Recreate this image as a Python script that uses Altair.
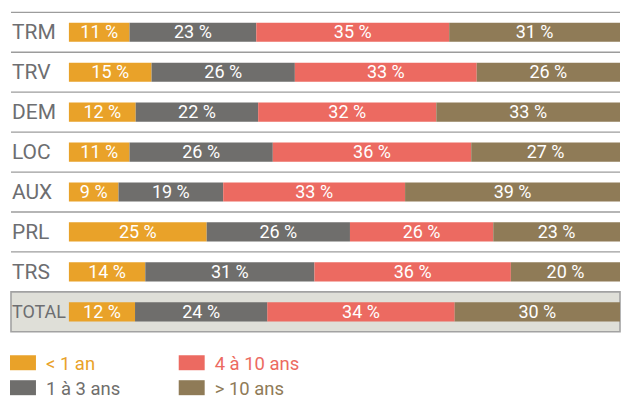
import altair as alt
import pandas as pd

rows = ["TRM", "TRV", "DEM", "LOC", "AUX", "PRL", "TRS", "TOTAL"]
cats = ["< 1 an", "1 à 3 ans", "4 à 10 ans", "> 10 ans"]
lt1 = [11, 15, 12, 11, 9, 25, 14, 12]
y1_3 = [23, 26, 22, 26, 19, 26, 31, 24]
y4_10 = [35, 33, 32, 36, 33, 26, 36, 34]
gt10 = [31, 26, 33, 27, 39, 23, 20, 30]
colors = ["#E9A229", "#6F6E6C", "#EC6A61", "#8F7B57"]

series = [lt1, y1_3, y4_10, gt10]
recs = []
for i, r in enumerate(rows):
    for j, c in enumerate(cats):
        recs.append({"row": r, "ri": i, "cat": c, "ci": j, "value": series[j][i]})
df = pd.DataFrame(recs)

label_df = pd.DataFrame({"row": rows, "ri": list(range(len(rows)))})
rule_df = pd.DataFrame({"ri": [i for i, r in enumerate(rows) if r != "TOTAL"]})
tot_i = rows.index("TOTAL")
box_df = pd.DataFrame({"ri": [tot_i], "ri2": [tot_i + 1]})

W = 610
H = 320
yscale = alt.Scale(domain=[0, len(rows)], reverse=True, nice=False, zero=False)
xscale = alt.Scale(domain=[0, 1], range=[58, 610], nice=False)
cscale = alt.Scale(domain=cats, range=colors)
FONT = "Roboto"

box = alt.Chart(box_df).mark_rect(
    fill="#DFDFD8", stroke="#A2A2A2", strokeWidth=1.6
).encode(
    y=alt.Y("ri:Q", scale=yscale, axis=None),
    y2="ri2:Q",
)

rules = alt.Chart(rule_df).mark_rule(color="#9C9C9C", strokeWidth=1.3).encode(
    y=alt.Y("ri:Q", scale=yscale, axis=None)
)

base = (
    alt.Chart(df)
    .transform_joinaggregate(total="sum(value)", groupby=["row"])
    .transform_window(
        cum="sum(value)", groupby=["row"], sort=[alt.SortField("ci")], frame=[None, 0]
    )
    .transform_calculate(x0="(datum.cum - datum.value) / datum.total")
    .transform_calculate(x1="datum.cum / datum.total")
    .transform_calculate(xm="(datum.x0 + datum.x1) / 2")
    .transform_calculate(yt="datum.ri + 0.26", yb="datum.ri + 0.74", yc="datum.ri + 0.5")
    .transform_calculate(lab="datum.value + ' %'")
)

bars = base.mark_bar().encode(
    x=alt.X("x0:Q", scale=xscale, axis=None),
    x2="x1:Q",
    y=alt.Y("yt:Q", scale=yscale, axis=None),
    y2="yb:Q",
    color=alt.Color("cat:N", scale=cscale, legend=None),
)

seg_text = base.mark_text(
    color="white", font=FONT, fontSize=18, baseline="middle", align="center", dy=1
).encode(
    x=alt.X("xm:Q", scale=xscale, axis=None),
    y=alt.Y("yc:Q", scale=yscale, axis=None),
    text="lab:N",
)

row_labels = (
    alt.Chart(label_df)
    .transform_calculate(yc="datum.ri + 0.5")
    .mark_text(
        color="#6D6E71", font=FONT, fontWeight="normal",
        align="left", baseline="middle", dy=1
    )
    .encode(
        x=alt.value(1),
        y=alt.Y("yc:Q", scale=yscale, axis=None),
        text="row:N",
        size=alt.condition(alt.datum.row == "TOTAL", alt.value(18), alt.value(21)),
    )
)

main = alt.layer(box, rules, bars, seg_text, row_labels).properties(width=W, height=H)

leg_df = pd.DataFrame({"cat": cats, "col": [0, 0, 1, 1], "lr": [0, 1, 0, 1]})
lx = alt.Scale(domain=[0, 1], range=[12, 181], nice=False, zero=False)
ly = alt.Scale(domain=[0, 1], range=[12, 37], nice=False, zero=False)

leg_sym = alt.Chart(leg_df).mark_point(
    shape="M-1,-0.577H1V0.577H-1Z", filled=True, size=676, opacity=1
).encode(
    x=alt.X("col:Q", scale=lx, axis=None),
    y=alt.Y("lr:Q", scale=ly, axis=None),
    color=alt.Color("cat:N", scale=cscale, legend=None),
)
leg_txt = alt.Chart(leg_df).mark_text(
    align="left", baseline="middle", dx=23, dy=1, font=FONT, fontSize=18.5
).encode(
    x=alt.X("col:Q", scale=lx, axis=None),
    y=alt.Y("lr:Q", scale=ly, axis=None),
    text="cat:N",
    color=alt.Color("cat:N", scale=cscale, legend=None),
)
legend = alt.layer(leg_sym, leg_txt).properties(width=W, height=44)

chart = (
    alt.vconcat(main, legend, spacing=18)
    .properties(padding={"left": 2, "top": 3, "right": 0, "bottom": 0})
    .configure_view(stroke=None)
)

chart.save("out.html", embed_options={"renderer": "svg", "actions": False})
